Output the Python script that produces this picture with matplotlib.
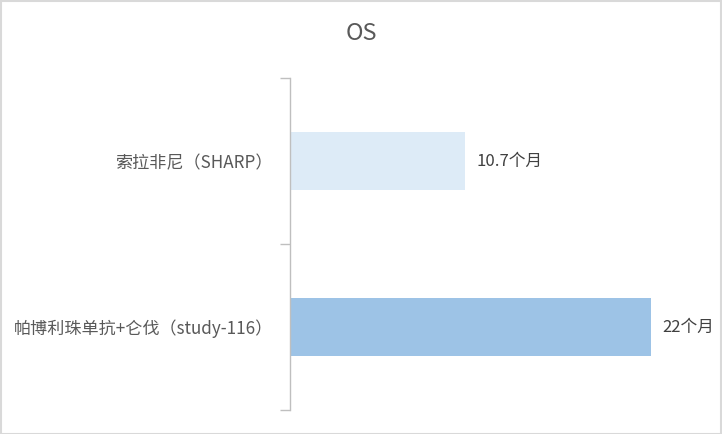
import matplotlib.pyplot as plt
from matplotlib.patches import Rectangle

plt.rcParams['font.family'] = ['Noto Sans CJK SC', 'DejaVu Sans']

categories = ['索拉非尼（SHARP）', '帕博利珠单抗+仑伐（study-116）']
values = [10.7, 22]
value_labels = ['10.7个月', '22个月']
colors = ['#DDEBF7', '#9DC3E6']

fig = plt.figure(figsize=(7.22, 4.34), dpi=100)
ax = fig.add_axes([290 / 722, 1 - 410 / 434, 410 / 722, 332 / 434])

y = list(range(len(categories)))
ax.barh(y, values, height=0.35, color=colors)
ax.set_ylim(1.5, -0.5)
ax.set_xlim(0, 25)

ax.set_yticks([-0.5, 0.5, 1.5], minor=False)
ax.set_yticklabels([])
ax.set_yticks(y, minor=True)
ax.set_yticklabels(categories, minor=True)
ax.tick_params(axis='y', which='major', length=7, width=1, color='#BFBFBF', direction='out')
ax.tick_params(axis='y', which='minor', length=0, pad=12, labelsize=12.3, labelcolor='#595959')
ax.set_xticks([])

for s in ['top', 'right', 'bottom']:
    ax.spines[s].set_visible(False)
ax.spines['left'].set_color('#BFBFBF')
ax.spines['left'].set_linewidth(1)

for i, (v, lab) in enumerate(zip(values, value_labels)):
    ax.annotate(lab, (v, i), xytext=(8, 0), textcoords='offset points',
                va='center', ha='left', fontsize=12, color='#404040')

fig.text(0.5, 1 - 34 / 434, 'OS', ha='center', va='center', fontsize=17, color='#595959')

fig.patches.append(Rectangle((0.001, 0.001), 0.997, 0.996, transform=fig.transFigure,
                             fill=False, edgecolor='#D9D9D9', linewidth=1.5))

fig.savefig('out.png', dpi=100)
